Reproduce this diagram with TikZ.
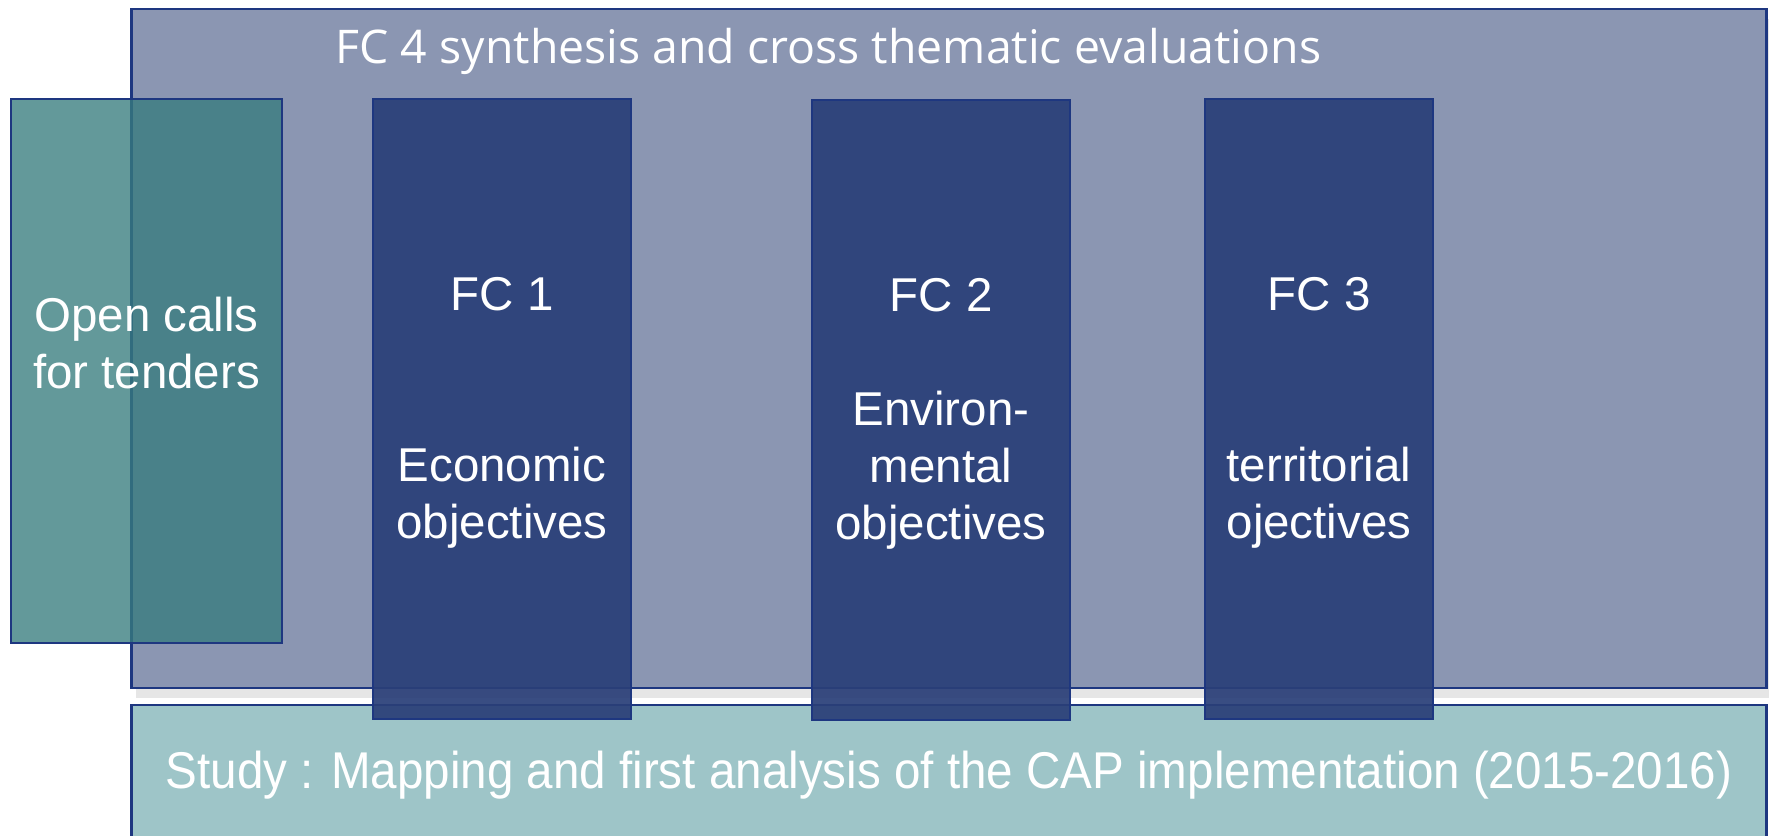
\documentclass[tikz,border=0pt]{standalone}
\usepackage{fontspec}
\setmainfont{Liberation Sans}
\newfontfamily\titlefont{Open Sans}
\newfontfamily\narrowfont[FakeStretch=0.92]{Liberation Sans}
\usetikzlibrary{shadows}
\definecolor{frameblue}{RGB}{30,55,128}
\definecolor{fcgrey}{RGB}{139,150,178}
\definecolor{fcdark}{RGB}{42,63,120}
\definecolor{tenderteal}{RGB}{55,124,126}
\definecolor{studyteal}{RGB}{158,197,200}

\begin{document}
\begin{tikzpicture}[x=0.01cm, y=-0.01cm]

        % Styles
        \tikzstyle{box}=[draw=frameblue, line width=0.6pt, inner sep=0pt, text=white]
        \tikzstyle{big text}=[font=\fontsize{13.5}{16.2}\selectfont]
        \tikzstyle{theme box}=[box, fill=fcdark, fill opacity=0.93, minimum height=6.2cm]
        \tikzstyle{theme text}=[big text, text=white, align=center, inner sep=0pt, yshift=-1.2pt]
        %The graphic
        \useasboundingbox (0,0) rectangle (1769,835);
        % FC 4 frame
        \node[box, fill=fcgrey, minimum width=16.34cm, minimum height=6.79cm,
              drop shadow={opacity=0.2, shadow xshift=0.4mm, shadow yshift=-1mm}] (fcfour) at (949,348.5) {};
        \node[anchor=west, text=white, inner sep=0pt, font=\titlefont\fontsize{13.2}{15}\selectfont] (fcfourtitle) at (335,51) {FC 4 synthesis and cross thematic evaluations};
        % study
        \node[box, fill=studyteal, minimum width=16.34cm, minimum height=1.4cm, font=\narrowfont\fontsize{14.7}{17}\selectfont] (study) at (949,775) {Study : Mapping and first analysis of the CAP implementation (2015-2016)};
        % focus themes
        \node[theme box, minimum width=2.58cm] (fcone) at (502,409) {};
        \node[theme box, minimum width=2.58cm] (fctwo) at (941,410) {};
        \node[theme box, minimum width=2.28cm] (fcthree) at (1319,409) {};
        \node[theme text] (fconetext) at (fcone) {FC 1\\\mbox{}\\\mbox{}\\Economic\\objectives};
        \node[theme text] (fctwotext) at (fctwo) {FC 2\\\mbox{}\\Environ-\\mental\\objectives};
        \node[theme text] (fcthreetext) at (fcthree) {FC 3\\\mbox{}\\\mbox{}\\territorial\\ojectives};
        % calls for tenders
        \node[box, big text, fill=tenderteal, fill opacity=0.78, text opacity=1, minimum width=2.71cm, minimum height=5.44cm, align=center] (tenders) at (146.5,371) {Open calls\\for tenders\\\mbox{}};
\end{tikzpicture}
\end{document}
